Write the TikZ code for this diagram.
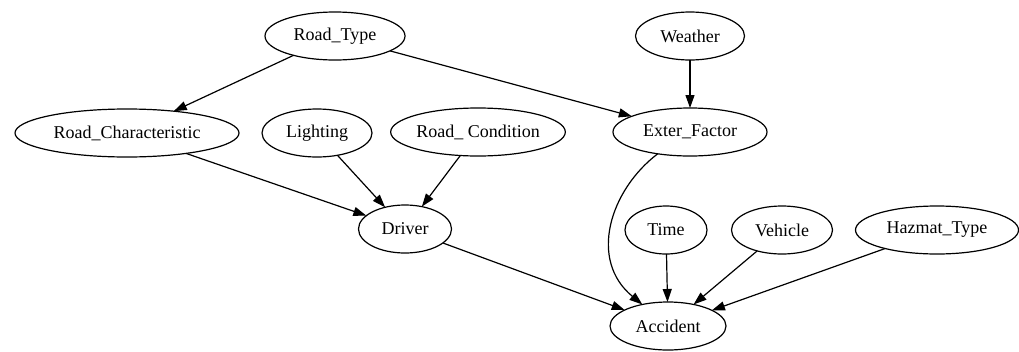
\documentclass[tikz,border=0pt]{standalone}
\usepackage{fontspec}
\setmainfont{Liberation Serif}
\usetikzlibrary{arrows.meta,shapes.geometric}
\tikzset{
  var/.style={ellipse, draw, line width=1.2pt, minimum height=48pt, inner sep=0pt, outer sep=0pt, font=\fontsize{18}{20}\selectfont},
  edge/.style={line width=1.2pt, -{Triangle[length=13pt,width=9pt]}}
}
\begin{document}
\begin{tikzpicture}[x=1pt,y=-1pt]
\useasboundingbox (0,0) rectangle (1019,351);
\node[var, minimum width=140pt] (RT) at (335,36) {Road\_Type};
\node[var, minimum width=109pt] (W) at (690,36) {Weather};
\node[var, minimum width=224pt] (RC) at (127,133) {Road\_Characteristic};
\node[var, minimum width=110pt] (L) at (317,133) {Lighting};
\node[var, minimum width=169pt] (RCo) at (478,132) {Road\_ Condition};
\node[var, minimum width=154pt] (EF) at (690,132) {Exter\_Factor};
\node[var, minimum width=93pt] (D) at (405,229) {Driver};
\node[var, minimum width=82pt] (T) at (666,230) {Time};
\node[var, minimum width=101pt] (V) at (782,230) {Vehicle};
\node[var, minimum width=163pt] (H) at (937,230) {Hazmat\_Type};
\node[var, minimum width=116pt] (A) at (668,326) {Accident};

\draw[edge] (RT) -- (RC);
\draw[edge] (RT) -- (EF);
\draw[edge] (W) -- (EF);
\draw[edge] (RC) -- (D);
\draw[edge] (L) -- (D);
\draw[edge] (RCo) -- (D);
\draw[edge] (D) -- (A);
\draw[edge] (EF.214) .. controls (610,190) and (588,260) .. (A.140);
\draw[edge] (T) -- (A);
\draw[edge] (V) -- (A);
\draw[edge] (H) -- (A);
\end{tikzpicture}
\end{document}
